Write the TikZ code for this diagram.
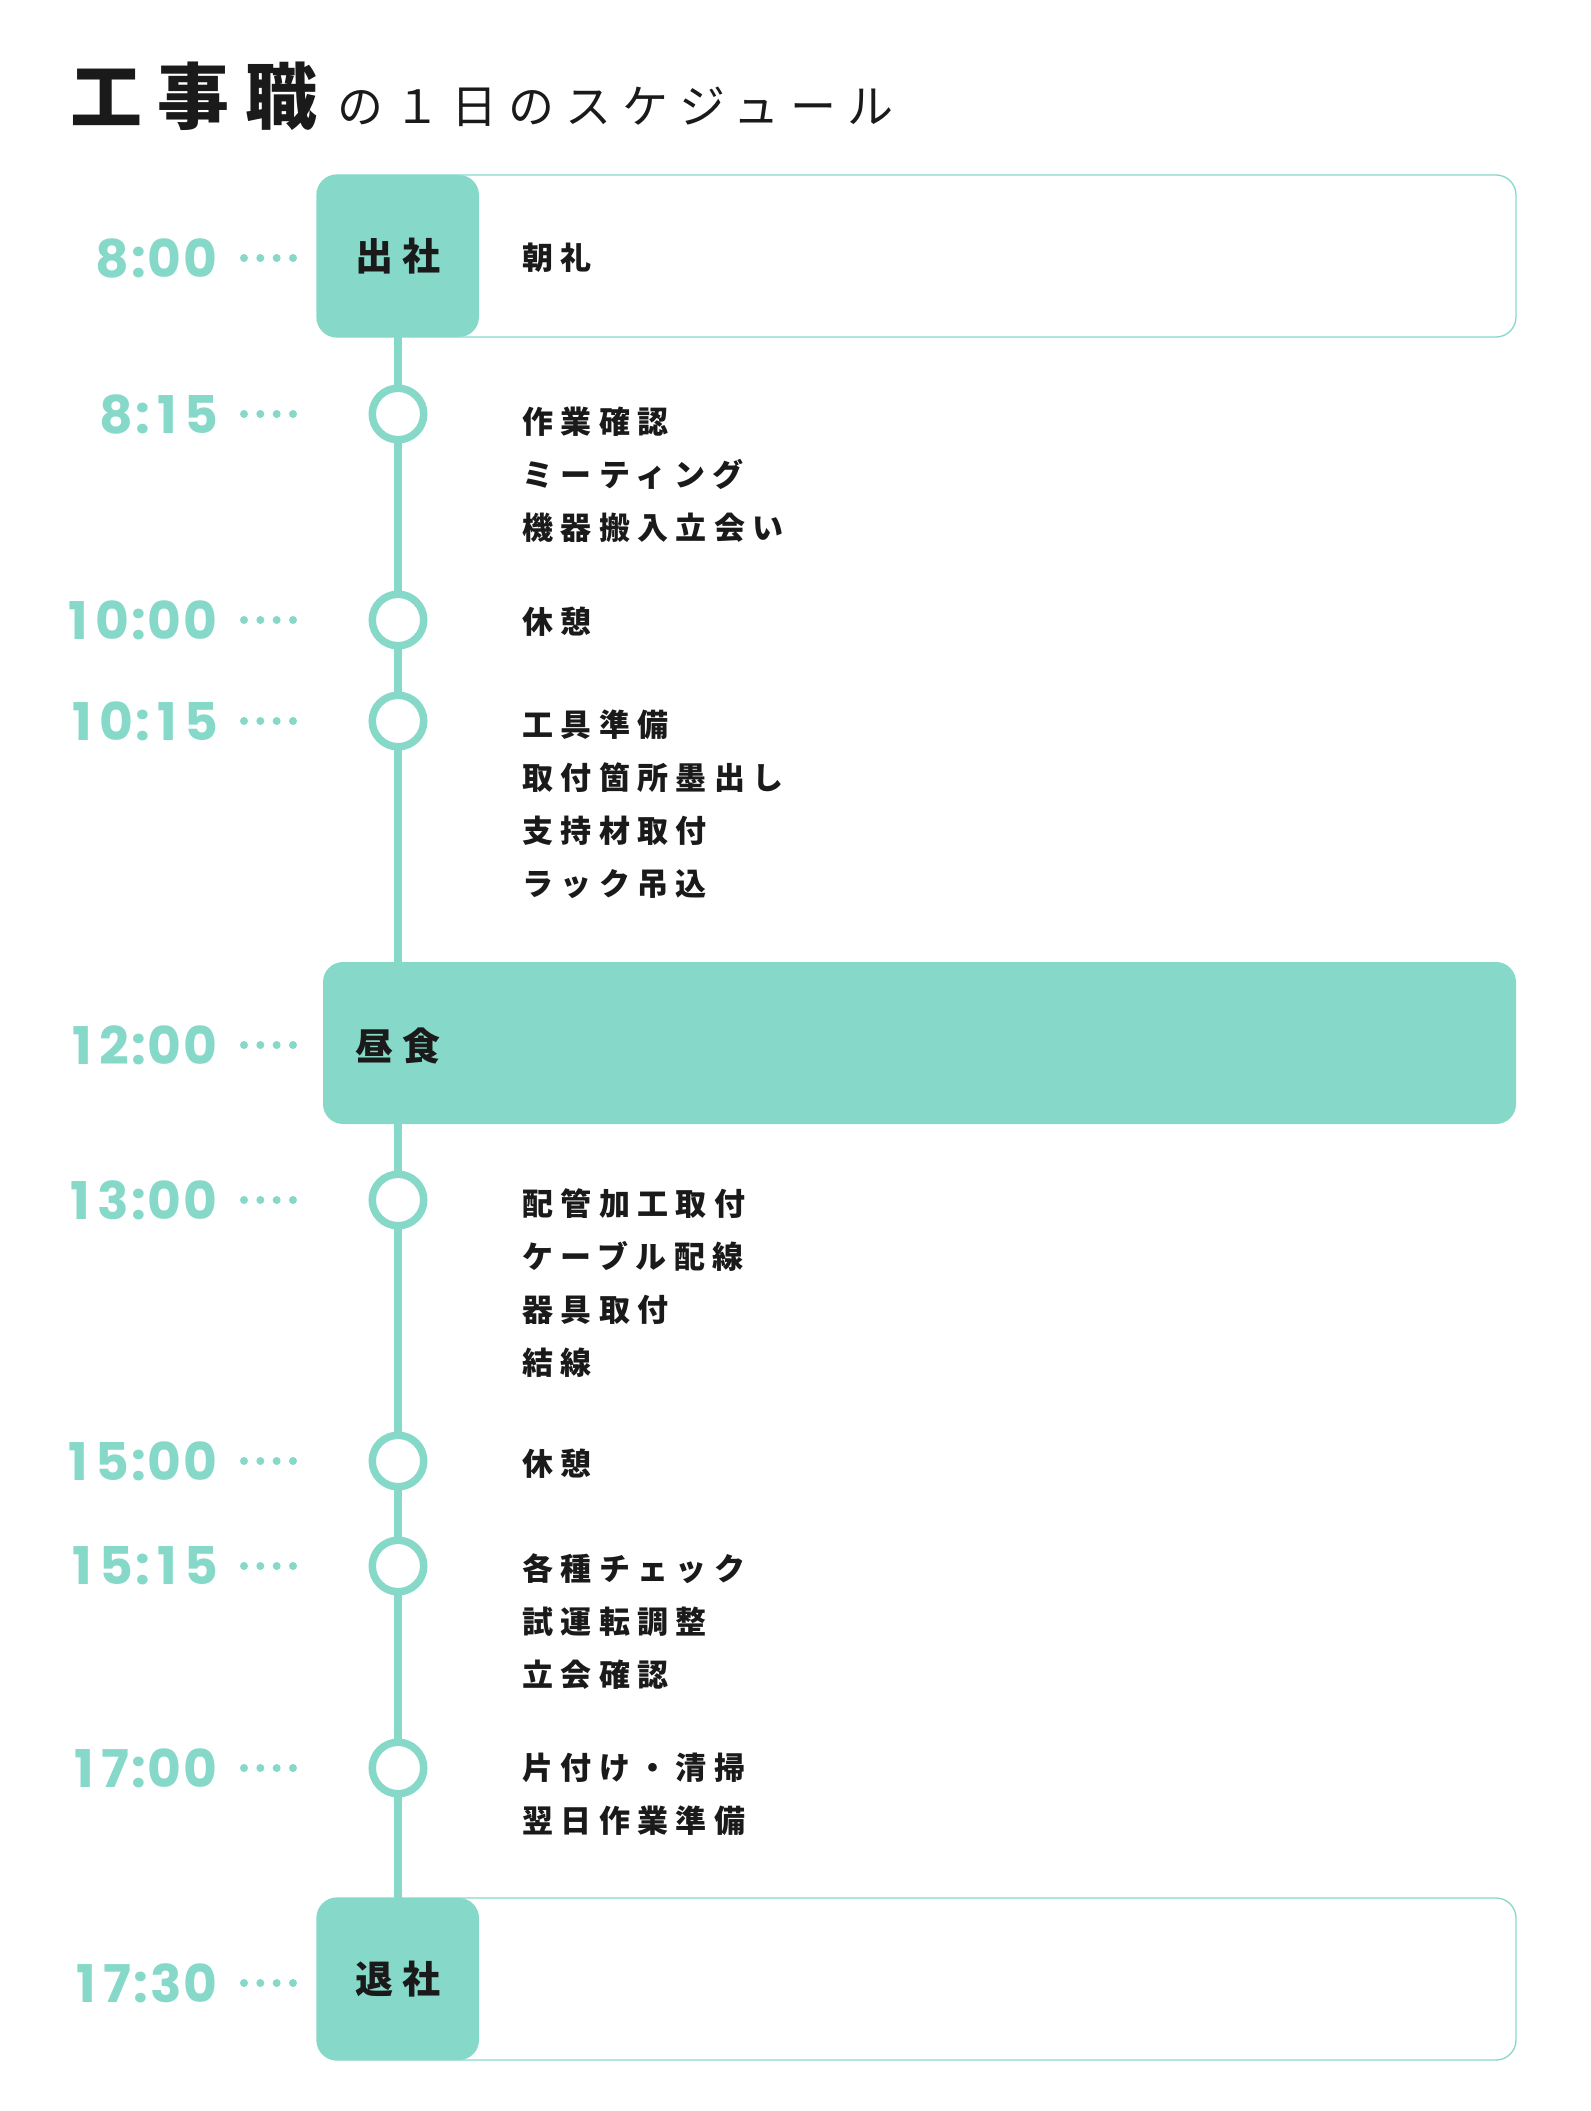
\documentclass[tikz,border=0pt]{standalone}
\usepackage{fontspec}
\usepackage{tikz}
\usetikzlibrary{positioning}
\newfontfamily\jp[LetterSpace=24]{Noto Sans CJK JP}
\newfontfamily\jptitle[LetterSpace=22]{Noto Sans CJK JP}
\newfontfamily\timefont[LetterSpace=4]{Poppins}
\newcommand\tone{\makebox[\fontcharwd\font`0]{1}}
\definecolor{mint}{HTML}{86D8C9}
\definecolor{ink}{HTML}{1A1A1A}
\tikzset{
    time label/.style={anchor=east, inner sep=0pt, text=mint, font=\timefont\bfseries\fontsize{52}{52}\selectfont},
    leader/.style={mint, line width=8pt, line cap=round, dash pattern=on 0pt off 16.33pt},
    stop circle/.style={circle, draw=mint, line width=7.5pt, fill=white, minimum size=51.5pt, inner sep=0pt},
    task list/.style={anchor=north west, inner sep=0pt, align=left, text=ink, font=\jp\bfseries\fontsize{31}{53}\selectfont},
    tag box/.style={rectangle, rounded corners=20pt, fill=mint, minimum width=162pt, minimum height=162pt, inner sep=0pt, text=ink, font=\jp\bfseries\fontsize{38}{38}\selectfont},
    row frame/.style={rectangle, rounded corners=20pt, draw=mint, line width=1.3pt, minimum width=1199pt, minimum height=162pt},
    timeline/.style={mint, line width=8pt}
}
\begin{document}
\begin{tikzpicture}[x=1pt, y=-1pt]
	\useasboundingbox (0,0) rectangle (1590,2111);
	% title
	\node[anchor=base west, inner sep=0pt, text=ink, font=\jptitle\bfseries\fontsize{72}{72}\selectfont] (title) at (70,124) {工事職};
	\node[anchor=base west, inner sep=0pt, text=ink, font=\jp\fontsize{46}{46}\selectfont] (subtitle) at (337,124) {の１日のスケジュール};
	% arrive / leave rows
	\node[row frame] (arriverow) at (916.5,256) {};
	\node[tag box] (arrive) at (398,256) {出社};
	\node[task list, anchor=west] (a800) at (522,258) {朝礼};
	\node[row frame] (leaverow) at (916.5,1979) {};
	\node[tag box] (leave) at (398,1979) {退社};
	\draw[timeline] (arrive.south) -- (leave.north);
	% lunch
	\node[tag box, minimum width=1193pt] (lunch) at (919.5,1043) {};
	\node[anchor=west, inner sep=0pt, text=ink, font=\jp\bfseries\fontsize{38}{38}\selectfont] (lunchtext) at ([xshift=32pt, yshift=-3pt]lunch.west) {昼食};
	% stops
	\foreach \n/\y in {815/414, 1000/620, 1015/721, 1300/1200, 1500/1461, 1515/1566, 1700/1768}
		\node[stop circle] (c\n) at (398,\y) {};
	% times
	\foreach \n/\t/\y in {800/8:00/258, 815/8:\tone5/414, 1000/\tone0:00/620, 1015/\tone0:\tone5/721, 1200/\tone2:00/1045,
			1300/\tone3:00/1200, 1500/\tone5:00/1461, 1515/\tone5:\tone5/1566, 1700/\tone7:00/1768, 1730/\tone7:30/1983}
	{
		\node[time label] (t\n) at (218,\y) {\t};
		\draw[leader] ([xshift=26pt]t\n.east) -- ++(49.5,0);
	}
	% tasks
	\node[task list] (a815) at (522,407) {作業確認\\ミーティング\\機器搬入立会い};
	\node[task list] (a1000) at (522,607) {休憩};
	\node[task list] (a1015) at (522,710) {工具準備\\取付箇所墨出し\\支持材取付\\ラック吊込};
	\node[task list] (a1300) at (522,1188) {配管加工取付\\ケーブル配線\\器具取付\\結線};
	\node[task list] (a1500) at (522,1449) {休憩};
	\node[task list] (a1515) at (522,1553) {各種チェック\\試運転調整\\立会確認};
	\node[task list] (a1700) at (522,1753) {片付け・清掃\\翌日作業準備};
\end{tikzpicture}
\end{document}
